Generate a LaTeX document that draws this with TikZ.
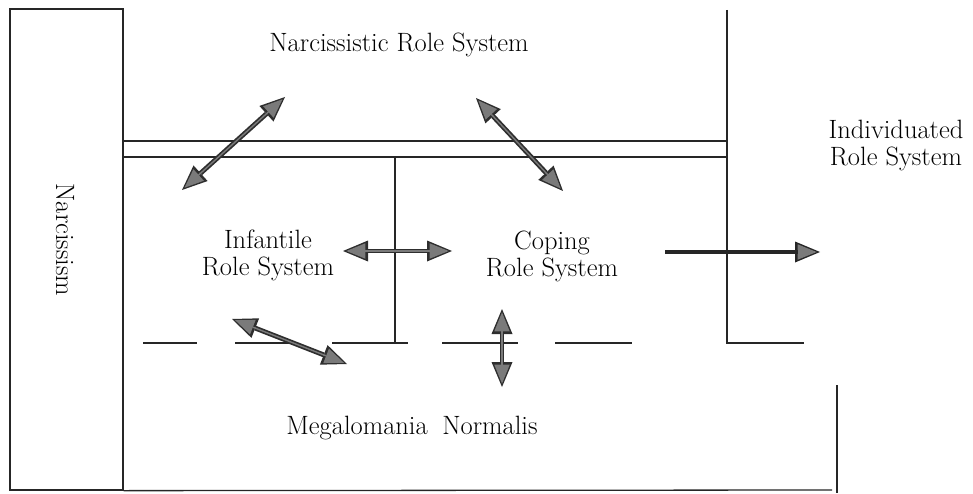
\documentclass[tikz,border=0pt]{standalone}
\usetikzlibrary{arrows.meta}
\begin{document}
\begin{tikzpicture}[x=1pt,y=-1pt,
  ln/.style={line width=1.3pt, draw=black!85},
  lbl/.style={font=\fontsize{26.5}{27}\selectfont, inner sep=0pt, align=center, text=black},
  dbl/.style={draw=black!52, line width=1.4pt,
    {Triangle[length=19pt,width=15.5pt,line width=0pt]}-{Triangle[length=19pt,width=15.5pt,line width=0pt]},
    shorten <=3.4pt, shorten >=3.4pt,
    preaction={draw=black!82, line width=4.8pt, shorten <=0pt, shorten >=0pt,
      {Triangle[length=25pt,width=21pt,line width=0pt]}-{Triangle[length=25pt,width=21pt,line width=0pt]}}},
  sgltip/.style={draw=black!52, line width=1.4pt, -{Triangle[length=19pt,width=15.5pt,line width=0pt]}, shorten >=3.4pt,
    preaction={draw=black!85, line width=4pt, shorten >=0pt, -{Triangle[length=25pt,width=21pt,line width=0pt]}}},
  sglshaft/.style={draw=black!85, line width=4pt},
]
\useasboundingbox (0,0) rectangle (973,494);

% Narcissism box
\node (nbox) [ln, draw, minimum width=113pt, minimum height=481pt, inner sep=0pt] at (66.5,249.5) {};
\node (narc) [lbl, rotate=-90] at (65,240) {Narcissism};

% coordinates
\coordinate (bR) at (832,490);
\coordinate (rT) at (837,385);
\coordinate (rB) at (837,493);
\coordinate (d1L) at (123,141); \coordinate (d1R) at (727,141);
\coordinate (d2L) at (123,157); \coordinate (d2R) at (727,157);
\coordinate (vT) at (727,10); \coordinate (vB) at (727,343); \coordinate (vE) at (804,343);
\coordinate (iT) at (395,157); \coordinate (iB) at (395,343);
\coordinate (iL) at (332,343); \coordinate (iR) at (408,343);
\coordinate (s1a) at (143,343); \coordinate (s1b) at (197,343);
\coordinate (s2a) at (235,343); \coordinate (s2b) at (290,343);
\coordinate (s3a) at (442,343); \coordinate (s3b) at (518,343);
\coordinate (s4a) at (555,343); \coordinate (s4b) at (632,343);

% lines
\draw[ln] (nbox.south east) -- (bR);
\draw[ln] (rT) -- (rB);
\draw[ln] (d1L) -- (d1R);
\draw[ln] (d2L) -- (d2R);
\draw[ln] (vT) -- (vB) -- (vE);
\draw[ln] (iT) -- (iB);
\draw[ln] (iL) -- (iR);
\draw[ln] (s1a) -- (s1b);
\draw[ln] (s2a) -- (s2b);
\draw[ln] (s3a) -- (s3b);
\draw[ln] (s4a) -- (s4b);

% labels
\node (nrs) [lbl, anchor=base] at (399,52) {Narcissistic Role System};
\node (irs) [lbl] at (896,145) {Individuated\\Role System};
\node (infr) [lbl] at (268,255) {Infantile\\Role System};
\node (cop) [lbl] at (552,256) {Coping\\Role System};
\node (mega) [lbl, anchor=base] at (412,434) {Megalomania\hspace{0.55em}Normalis};

% arrow end points
\coordinate (a1a) at (182,190); \coordinate (a1b) at (285,97);
\coordinate (a2a) at (476,98);  \coordinate (a2b) at (563,191);
\coordinate (a3a) at (343,251); \coordinate (a3b) at (452,251);
\coordinate (a4a) at (232,319); \coordinate (a4b) at (347,364);
\coordinate (a5a) at (502,309); \coordinate (a5b) at (502,387);
\coordinate (a6a) at (665,252); \coordinate (a6m) at (798,252); \coordinate (a6b) at (820,252);

\draw[dbl] (a1a) -- (a1b);
\draw[dbl] (a2a) -- (a2b);
\draw[dbl] (a3a) -- (a3b);
\draw[dbl] (a4a) -- (a4b);
\draw[dbl] (a5a) -- (a5b);
\draw[sgltip] (a6m) -- (a6b);
\draw[sglshaft] (a6a) -- (a6m);
\end{tikzpicture}
\end{document}
